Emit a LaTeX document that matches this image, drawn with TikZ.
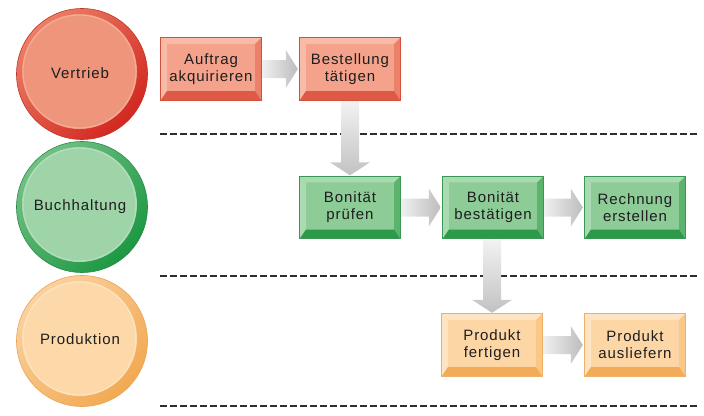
\documentclass[tikz,border=0pt]{standalone}
\usepackage{fontspec}
\setmainfont{Liberation Sans}
\newfontfamily\lblfont[LetterSpace=6]{Liberation Sans}
\usetikzlibrary{calc}
% red
\definecolor{rRingL}{HTML}{EC7E66}
\definecolor{rRingD}{HTML}{D2271F}
\definecolor{rFace}{HTML}{EE957C}
\definecolor{rHi}{HTML}{F4AE99}
\definecolor{rOut}{HTML}{C0362C}
\definecolor{rBFace}{HTML}{F4A28B}
\definecolor{rBLight}{HTML}{F8BBA7}
\definecolor{rBSide}{HTML}{EC8069}
\definecolor{rBBot}{HTML}{DE5A46}
\definecolor{rBOut}{HTML}{D4503C}
% green
\definecolor{gRingL}{HTML}{72C084}
\definecolor{gRingD}{HTML}{1C9843}
\definecolor{gFace}{HTML}{9ED4A8}
\definecolor{gHi}{HTML}{B5DFBC}
\definecolor{gOut}{HTML}{2A8A48}
\definecolor{gBFace}{HTML}{8DCB97}
\definecolor{gBLight}{HTML}{AADAB1}
\definecolor{gBSide}{HTML}{5CB36D}
\definecolor{gBBot}{HTML}{2C9A48}
\definecolor{gBOut}{HTML}{3A9754}
% orange
\definecolor{oRingL}{HTML}{FAD19F}
\definecolor{oRingD}{HTML}{F2A952}
\definecolor{oFace}{HTML}{FDD8A9}
\definecolor{oHi}{HTML}{FEE3C2}
\definecolor{oOut}{HTML}{EBA458}
\definecolor{oBFace}{HTML}{FDD6A6}
\definecolor{oBLight}{HTML}{FEE4C3}
\definecolor{oBSide}{HTML}{FAC787}
\definecolor{oBBot}{HTML}{F2AC58}
\definecolor{oBOut}{HTML}{EFB06A}
\definecolor{txt}{HTML}{1E1E1E}
\definecolor{dashc}{HTML}{2E2E2E}

\newcommand\mybevel[5]{%
  \fill[#2] (#1.north west) -- (#1.north east) -- ($(#1.north east)+(-6,6)$) -- ($(#1.north west)+(6,6)$) -- cycle;
  \fill[#2] (#1.north west) -- ($(#1.north west)+(6,6)$) -- ($(#1.south west)+(6,-9)$) -- (#1.south west) -- cycle;
  \fill[#3] (#1.north east) -- ($(#1.north east)+(-6,6)$) -- ($(#1.south east)+(-6,-9)$) -- (#1.south east) -- cycle;
  \fill[#4] (#1.south west) -- ($(#1.south west)+(6,-9)$) -- ($(#1.south east)+(-6,-9)$) -- (#1.south east) -- cycle;
  \draw[#5, line width=0.8] (#1.north west) rectangle (#1.south east);
}
\newcommand\harrow[2]{%
  \shade[left color=gray!12, right color=gray!52]
    ($(#1.east)+(1,-9)$) -- ($(#2.west)+(-14,-9)$) -- ($(#2.west)+(-14,-19)$) --
    ($(#2.west)+(-2,0)$) -- ($(#2.west)+(-14,19)$) -- ($(#2.west)+(-14,9)$) --
    ($(#1.east)+(1,9)$) -- cycle;
}
\newcommand\varrow[2]{%
  \shade[top color=gray!10, bottom color=gray!48]
    ($(#1.south -| #2.north)+(-9,1)$) -- ($(#2.north)+(-9,-14)$) -- ($(#2.north)+(-20,-14)$) --
    ($(#2.north)+(0,-1)$) -- ($(#2.north)+(20,-14)$) -- ($(#2.north)+(9,-14)$) --
    ($(#1.south -| #2.north)+(9,1)$) -- cycle;
}
\newcommand\lanedisc[7]{% name, pos, ringL, ringD, face, hi, outline
  \shade[top color=#3, bottom color=#4, shading angle=45] (#2) circle (65.5);
  \draw[#7, line width=0.6] (#2) circle (65.5);
  \fill[#5] ($(#2)+(-2.5,-2.5)$) circle (57.5);
  \draw[#6, line width=1.1] ($(#2)+(-2.5,-2.5)$) circle (56.5);
}

\begin{document}
\begin{tikzpicture}[x=1pt,y=-1pt,
  box/.style={rectangle, minimum width=100pt, minimum height=62pt, inner sep=0pt,
    align=center, text=txt, font=\lblfont\fontsize{15}{17}\selectfont},
  lanelbl/.style={circle, minimum size=110pt, inner sep=0pt, text=txt,
    font=\lblfont\fontsize{15}{17}\selectfont},
  dashline/.style={dashc, line width=2pt, dash pattern=on 7pt off 3pt}]
\useasboundingbox (0,0) rectangle (704,415);

% lanes
\lanedisc{vpos}{82,74}{rRingL}{rRingD}{rFace}{rHi}{rOut}
\node[lanelbl] (vertrieb) at (80,73) {Vertrieb};
\lanedisc{bpos}{82,207}{gRingL}{gRingD}{gFace}{gHi}{gOut}
\node[lanelbl] (buchhaltung) at (80,207) {Buchhaltung};
\lanedisc{ppos}{82,341}{oRingL}{oRingD}{oFace}{oHi}{oOut}
\node[lanelbl] (produktion) at (80,339) {Produktion};

% separators
\coordinate (d1a) at (160,134); \coordinate (d1b) at (697,134);
\coordinate (d2a) at (160,276); \coordinate (d2b) at (697,276);
\coordinate (d3a) at (160,406); \coordinate (d3b) at (697,406);
\draw[dashline] (d1a) -- (d1b);
\draw[dashline] (d2a) -- (d2b);
\draw[dashline] (d3a) -- (d3b);

% boxes
\node[box, fill=rBFace] (auftrag) at (211,69) {Auftrag\\akquirieren};
\mybevel{auftrag}{rBLight}{rBSide}{rBBot}{rBOut}
\node[box, fill=rBFace] (bestellung) at (350,69) {Bestellung\\tätigen};
\mybevel{bestellung}{rBLight}{rBSide}{rBBot}{rBOut}

\node[box, fill=gBFace] (pruefen) at (350,207.5) {Bonität\\prüfen};
\mybevel{pruefen}{gBLight}{gBSide}{gBBot}{gBOut}
\node[box, fill=gBFace] (bestaetigen) at (493,207.5) {Bonität\\bestätigen};
\mybevel{bestaetigen}{gBLight}{gBSide}{gBBot}{gBOut}
\node[box, fill=gBFace] (rechnung) at (635,207.5) {Rechnung\\erstellen};
\mybevel{rechnung}{gBLight}{gBSide}{gBBot}{gBOut}

\node[box, fill=oBFace] (fertigen) at (492,345) {Produkt\\fertigen};
\mybevel{fertigen}{oBLight}{oBSide}{oBBot}{oBOut}
\node[box, fill=oBFace] (ausliefern) at (635,345) {Produkt\\ausliefern};
\mybevel{ausliefern}{oBLight}{oBSide}{oBBot}{oBOut}

% arrows
\harrow{auftrag}{bestellung}
\varrow{bestellung}{pruefen}
\harrow{pruefen}{bestaetigen}
\harrow{bestaetigen}{rechnung}
\varrow{bestaetigen}{fertigen}
\harrow{fertigen}{ausliefern}
\end{tikzpicture}
\end{document}
